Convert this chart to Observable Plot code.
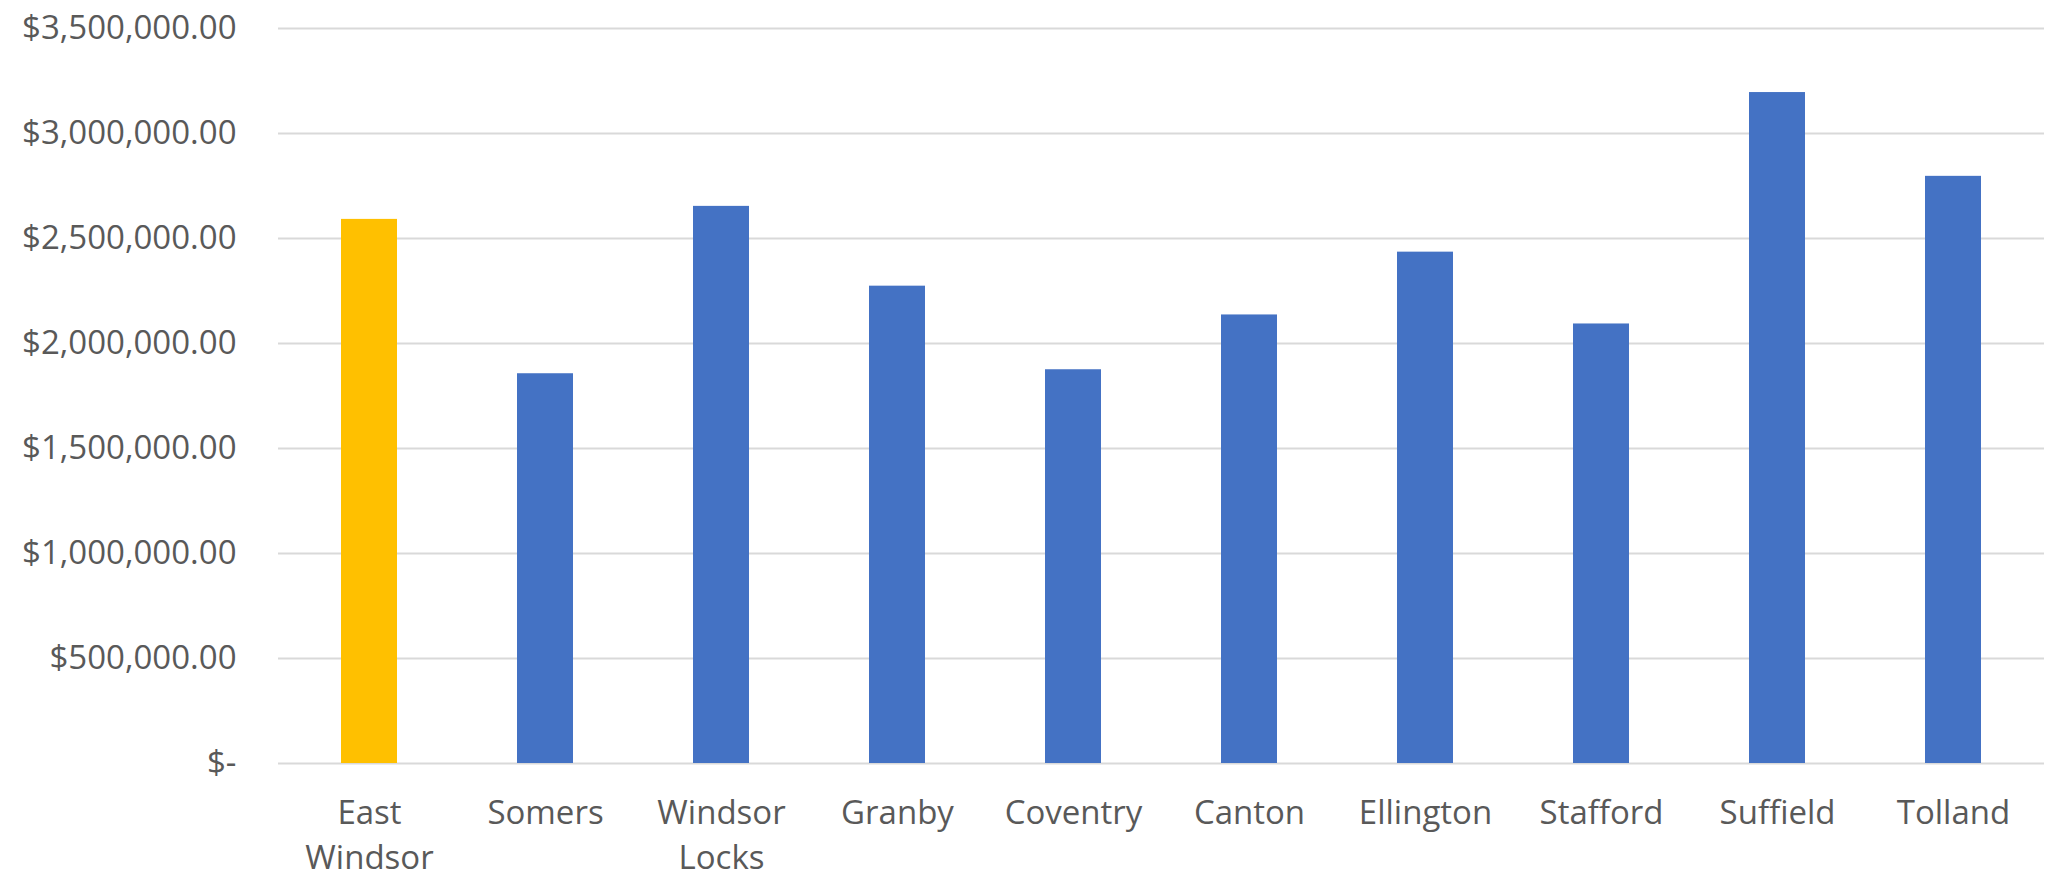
<!DOCTYPE html>
<html>
<head>
<meta charset="utf-8">
<script src="https://cdn.jsdelivr.net/npm/d3@7"></script>
<script src="https://cdn.jsdelivr.net/npm/@observablehq/plot@0.6"></script>
<style>
  html, body { margin: 0; padding: 0; background: #fff; }
  #chart svg { display: block; }
</style>
</head>
<body>
<div id="chart"></div>
<script>
const towns = ["East Windsor", "Somers", "Windsor Locks", "Granby", "Coventry", "Canton", "Ellington", "Stafford", "Suffield", "Tolland"];
const values = [2591000, 1856000, 2653000, 2273000, 1875000, 2136000, 2435000, 2093000, 3195000, 2796000];
const highlightTown = "East Windsor";
const yTicks = [0, 500000, 1000000, 1500000, 2000000, 2500000, 3000000, 3500000];
const xTickLabels = ["East\nWindsor", "Somers", "Windsor\nLocks", "Granby", "Coventry", "Canton", "Ellington", "Stafford", "Suffield", "Tolland"];

const data = towns.map((t, i) => ({town: t, value: values[i]}));
const labelOf = new Map(towns.map((t, i) => [t, xTickLabels[i]]));
const money = d3.format(",.2f");

const chart = Plot.plot({
  width: 2048,
  height: 880,
  marginLeft: 278,
  marginRight: 4,
  marginTop: 28,
  marginBottom: 117,
  style: {fontFamily: "'Open Sans', sans-serif", color: "#595959", background: "#fff"},
  x: {domain: towns, paddingInner: 0.683, paddingOuter: 0.3415, label: null},
  y: {domain: [0, 3500000], label: null},
  marks: [
    Plot.gridY(yTicks, {stroke: "#d9d9d9", strokeOpacity: 1, strokeWidth: 2}),
    Plot.barY(data, {
      x: "town",
      y: "value",
      fill: d => d.town === highlightTown ? "#FFC000" : "#4472C4"
    }),
    Plot.axisY(yTicks, {
      tickSize: 0,
      tickPadding: 42,
      fontSize: 33,
      tickFormat: d => d === 0 ? "$-" : "$" + money(d),
      label: null
    }),
    Plot.axisX({
      tickSize: 0,
      tickPadding: 28,
      fontSize: 33,
      lineHeight: 1.38,
      tickFormat: d => labelOf.get(d),
      label: null
    })
  ]
});
document.getElementById("chart").appendChild(chart);
</script>
</body>
</html>
